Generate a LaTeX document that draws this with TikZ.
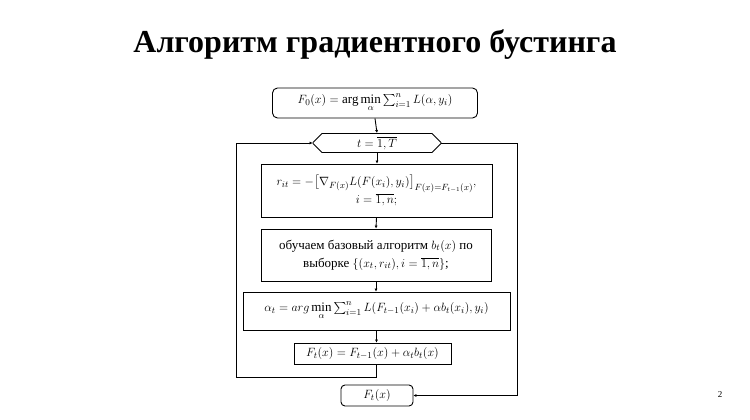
\documentclass[tikz,border=0pt]{standalone}
\usepackage{amsmath}
\usepackage{fontspec}
\setmainfont{Liberation Serif}
\usetikzlibrary{shapes.misc,arrows.meta}
\begin{document}
\begin{tikzpicture}[x=1pt,y=-1pt,
  box/.style={draw,line width=0.9pt,align=center,inner sep=0pt,font=\fontsize{13}{18}\selectfont},
  arr/.style={-{Latex[length=3pt,width=3pt]},line width=0.9pt},
  ln/.style={line width=0.9pt}]
\useasboundingbox (0,0) rectangle (750,420);
\node[font=\bfseries\fontsize{32}{36}\selectfont] (title) at (375,45) {Алгоритм градиентного бустинга};
\node[box,rounded corners=5pt,minimum width=205,minimum height=30] (f0) at (375,103)
  {$F_0(x)=\arg\min\limits_{\alpha}\textstyle\sum_{i=1}^{n}L(\alpha,y_i)$};
\node[box,chamfered rectangle,chamfered rectangle xsep=6pt,minimum width=128,minimum height=19] (t) at (377,143)
  {$t=\overline{1,T}$};
\node[box,minimum width=231,minimum height=53] (r) at (376.5,190.5)
  {$r_{it}=-\bigl[\nabla_{F(x)}L(F(x_i),y_i)\bigr]_{F(x)=F_{t-1}(x)},$\\ $i=\overline{1,n};$};
\node[box,minimum width=230,minimum height=52] (b) at (376,255)
  {обучаем базовый алгоритм $b_t(x)$ по\\ выборке $\{(x_t,r_{it}),i=\overline{1,n}\}$;};
\node[box,minimum width=267,minimum height=38] (a) at (376.5,311)
  {$\alpha_t=arg\min\limits_{\alpha}\textstyle\sum_{i=1}^{n}L(F_{t-1}(x_i)+\alpha b_t(x_i),y_i)$};
\node[box,minimum width=157,minimum height=21] (ft) at (372.5,353.5)
  {$F_t(x)=F_{t-1}(x)+\alpha_t b_t(x)$};
\node[box,rounded corners=4pt,minimum width=72,minimum height=21] (fin) at (377,395.5)
  {$F_t(x)$};
\node[font=\fontsize{9}{10}\selectfont] (pg) at (720,395) {2};
\coordinate (l1) at (376,377);
\coordinate (l2) at (236,377);
\coordinate (l3) at (236,143);
\coordinate (r1) at (517,143);
\coordinate (r2) at (517,395.5);
\draw[arr] (f0.south) -- (t.north);
\draw[arr] (t.south) -- (r.north-|t.south);
\draw[arr] (r.south) -- (b.north);
\draw[arr] (b.south) -- (a.north-|b.south);
\draw[arr] (a.south) -- (ft.north-|a.south);
\draw[arr] (ft.south-|l1) -- (l1) -- (l2) -- (l3) -- (t.west);
\draw[arr] (t.east) -- (r1) -- (r2) -- (fin.east);
\end{tikzpicture}
\end{document}
